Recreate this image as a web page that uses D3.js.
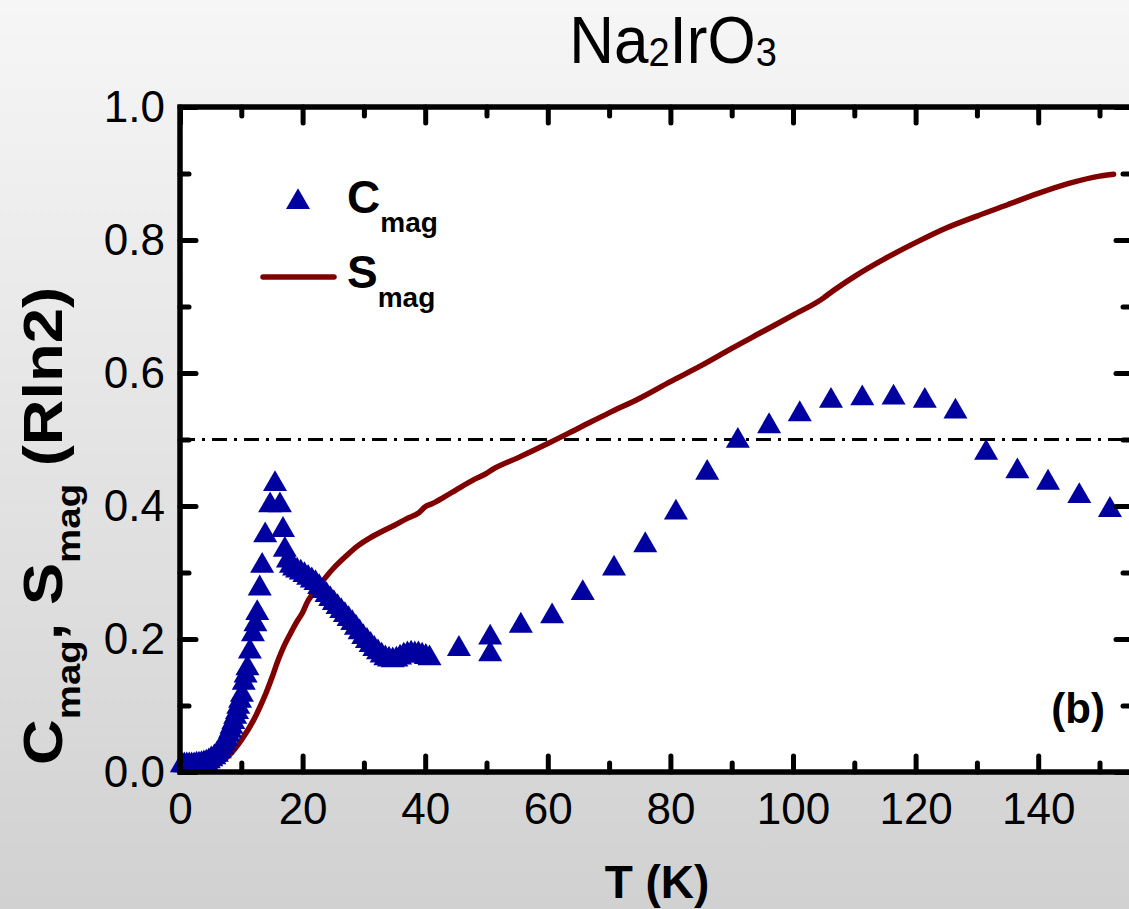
<!DOCTYPE html>
<html>
<head>
<meta charset="utf-8">
<script src="https://cdn.jsdelivr.net/npm/d3@7"></script>
<style>
  body { margin: 0; }
  svg { display: block; font-family: "Liberation Sans", Arial, sans-serif; }
</style>
</head>
<body>
<div id="chart"></div>
<script>
// magnetic heat capacity (triangles)
const cmagT = [0.3, 0.7, 1.1, 1.5, 1.9, 2.3, 2.7, 3.1, 3.5, 3.9, 4.3, 4.7, 5.1,
  5.6, 6.0, 6.5, 6.9, 7.3, 7.6, 7.9, 8.2, 8.4, 8.7, 9.0, 9.3, 9.5, 9.8, 10.1, 10.4, 10.7, 11.0,
  11.4, 11.9, 12.3, 12.6, 13.0, 13.4, 13.9, 14.7, 15.5, 16.3, 16.8, 17.1,
  17.6, 18.1, 18.6, 19.1, 19.7, 20.3, 20.9, 21.5, 22.1, 22.7, 23.3, 23.9, 24.5, 25.1, 25.7,
  26.3, 26.9, 27.5, 28.1, 28.7, 29.3, 29.9, 30.5, 31.1, 31.7, 32.3, 32.9, 33.5, 34.1, 34.7,
  35.3, 35.9, 36.5, 37.1, 37.7, 38.3, 38.9, 39.5, 40.1, 40.7,
  45.5, 50.6, 50.6, 55.6, 60.7, 65.7, 70.8, 75.9, 80.9, 86.0, 91.0, 96.1, 101.1, 106.2,
  111.3, 116.4, 121.5, 126.5, 131.5, 136.6, 141.6, 146.7, 151.7];
const cmagV = [0.010, 0.010, 0.010, 0.010, 0.010, 0.010, 0.011, 0.011, 0.012, 0.013, 0.014, 0.016, 0.019,
  0.022, 0.026, 0.031, 0.037, 0.043, 0.049, 0.056, 0.062, 0.068, 0.075, 0.083, 0.090, 0.098, 0.107, 0.116, 0.134, 0.145, 0.156,
  0.181, 0.207, 0.222, 0.239, 0.276, 0.310, 0.356, 0.401, 0.433, 0.401, 0.364, 0.334,
  0.318, 0.310, 0.306, 0.303, 0.300, 0.296, 0.292, 0.288, 0.284, 0.278, 0.272, 0.266, 0.260, 0.254, 0.248,
  0.242, 0.236, 0.230, 0.224, 0.217, 0.210, 0.203, 0.197, 0.191, 0.185, 0.180, 0.175, 0.171, 0.169, 0.168,
  0.169, 0.172, 0.175, 0.177, 0.178, 0.177, 0.177, 0.175, 0.173, 0.171,
  0.185, 0.202, 0.177, 0.220, 0.234, 0.269, 0.306, 0.341, 0.390, 0.450, 0.498, 0.520, 0.538, 0.558,
  0.562, 0.563, 0.558, 0.542, 0.480, 0.452, 0.435, 0.415, 0.394];

// magnetic entropy (line)
const smagT = [0, 2, 4, 6, 8, 10, 12, 13, 14, 15, 16, 17, 18, 19, 20, 20.8, 21.5, 23, 25, 27,
  29, 31, 33, 35, 37, 39, 40, 41, 43, 45, 48, 50, 51, 55, 60, 65, 70, 75, 80, 85, 90, 95,
  100, 105, 106, 110, 115, 120, 125, 130, 135, 140, 145, 150, 152.3];
const smagV = [0.002, 0.003, 0.005, 0.011, 0.025, 0.048, 0.078, 0.097, 0.118, 0.142, 0.168, 0.190,
  0.208, 0.225, 0.240, 0.256, 0.266, 0.284, 0.306, 0.324, 0.340, 0.352, 0.362, 0.371, 0.381,
  0.390, 0.399, 0.403, 0.413, 0.424, 0.440, 0.449, 0.455, 0.472, 0.494, 0.517, 0.540, 0.562,
  0.587, 0.611, 0.637, 0.662, 0.687, 0.713, 0.720, 0.745, 0.772, 0.796, 0.818, 0.836, 0.853,
  0.870, 0.885, 0.896, 0.899];

const xMajor = [0, 20, 40, 60, 80, 100, 120, 140];
const xMinor = [10, 30, 50, 70, 90, 110, 130, 150];
const yMajor = [0, 0.2, 0.4, 0.6, 0.8, 1.0];
const yMinor = [0.1, 0.3, 0.5, 0.7, 0.9];
const halfLevel = 0.5;

const W = 1129, H = 909;
const x = d3.scaleLinear().domain([0, 155.3]).range([180, 1132]);
const y = d3.scaleLinear().domain([0, 1]).range([772, 107]);
const xEnd = x.range()[1];

const svg = d3.select('#chart').append('svg')
  .attr('width', W)
  .attr('height', H);

const grad = svg.append('defs').append('linearGradient')
  .attr('id', 'bg').attr('x1', 0).attr('y1', 0).attr('x2', 0).attr('y2', 1);
grad.append('stop').attr('offset', '0%').attr('stop-color', '#f6f6f6');
grad.append('stop').attr('offset', '100%').attr('stop-color', '#d1d1d1');

svg.append('rect').attr('width', W).attr('height', H).attr('fill', 'url(#bg)');

// plot area
svg.append('rect')
  .attr('x', x(0)).attr('y', y(1))
  .attr('width', xEnd - x(0)).attr('height', y(0) - y(1))
  .attr('fill', '#fff');

// 0.5 reference line
svg.append('line')
  .attr('x1', x(0)).attr('x2', xEnd)
  .attr('y1', y(halfLevel)).attr('y2', y(halfLevel))
  .attr('stroke', '#000').attr('stroke-width', 3)
  .attr('stroke-dasharray', '15 7 3 7');

// entropy curve
const line = d3.line()
  .x((d, i) => x(smagT[i]))
  .y(d => y(d))
  .curve(d3.curveMonotoneX);
svg.append('path')
  .attr('d', line(smagV))
  .attr('fill', 'none')
  .attr('stroke', '#800000')
  .attr('stroke-width', 5.5)
  .attr('stroke-linejoin', 'round')
  .attr('stroke-linecap', 'round');

// heat capacity triangles
const tri = d3.symbol(d3.symbolTriangle, 250);
svg.append('g').selectAll('path')
  .data(cmagV)
  .enter()
  .append('path')
  .attr('d', tri)
  .attr('transform', (d, i) => `translate(${x(cmagT[i])},${y(d)})`)
  .attr('fill', '#0000a0');

// axes
function styleAxis(g) {
  g.select('.domain').remove();
  g.selectAll('.tick line')
    .attr('stroke', '#000')
    .attr('stroke-width', 5)
    .attr('stroke-linecap', 'round');
  g.selectAll('.tick text')
    .attr('fill', '#000')
    .style('font-family', '"Liberation Sans", Arial, sans-serif')
    .style('font-size', '44px');
}

function addAxis(axis, tx, ty) {
  const g = svg.append('g').attr('transform', `translate(${tx},${ty})`).call(axis);
  styleAxis(g);
  return g;
}

addAxis(d3.axisBottom(x).tickValues(xMajor).tickSize(-16).tickPadding(21).tickFormat(d3.format('d')), 0, y(0));
addAxis(d3.axisBottom(x).tickValues(xMinor).tickSize(-9).tickFormat(''), 0, y(0));
addAxis(d3.axisTop(x).tickValues(xMajor).tickSize(-16).tickFormat(''), 0, y(1));
addAxis(d3.axisTop(x).tickValues(xMinor).tickSize(-9).tickFormat(''), 0, y(1));
addAxis(d3.axisLeft(y).tickValues(yMajor).tickSize(-16).tickPadding(15).tickFormat(d3.format('.1f')), x(0), 0);
addAxis(d3.axisLeft(y).tickValues(yMinor).tickSize(-9).tickFormat(''), x(0), 0);
addAxis(d3.axisRight(y).tickValues(yMajor).tickSize(-16).tickFormat(''), xEnd, 0);
addAxis(d3.axisRight(y).tickValues(yMinor).tickSize(-9).tickFormat(''), xEnd, 0);

// frame
svg.append('rect')
  .attr('x', x(0)).attr('y', y(1))
  .attr('width', xEnd - x(0)).attr('height', y(0) - y(1))
  .attr('fill', 'none').attr('stroke', '#000').attr('stroke-width', 5.5);

// title (slightly taller than wide, like the reference)
const title = svg.append('text')
  .attr('transform', 'translate(673,63) scale(1,1.07)')
  .attr('text-anchor', 'middle')
  .style('font-size', '62px');
title.append('tspan').text('Na');
title.append('tspan').attr('dy', 3).style('font-size', '38px').text('2');
title.append('tspan').attr('dy', -3).text('IrO');
title.append('tspan').attr('dy', 3).style('font-size', '38px').text('3');

// x label
svg.append('text')
  .attr('x', 657).attr('y', 898)
  .attr('text-anchor', 'middle')
  .style('font-size', '46px').style('font-weight', 'bold')
  .text('T (K)');

// y label
const ylab = svg.append('text')
  .attr('transform', 'translate(62,526) scale(1,1.13) rotate(-90)')
  .attr('text-anchor', 'middle')
  .style('font-size', '56px').style('font-weight', 'bold');
ylab.append('tspan').text('C');
ylab.append('tspan').attr('dy', 18).style('font-size', '34px').text('mag');
ylab.append('tspan').attr('dy', -18).text(', S');
ylab.append('tspan').attr('dy', 18).style('font-size', '34px').text('mag');
ylab.append('tspan').attr('dy', -18).text(' (Rln2)');

// panel tag
svg.append('text')
  .attr('x', 1105).attr('y', 723)
  .attr('text-anchor', 'end')
  .style('font-size', '42px').style('font-weight', 'bold')
  .text('(b)');

// legend
const legend = svg.append('g');
legend.append('path')
  .attr('d', tri)
  .attr('transform', 'translate(298,202)')
  .attr('fill', '#0000a0');
legend.append('line')
  .attr('x1', 263).attr('x2', 334).attr('y1', 277).attr('y2', 277)
  .attr('stroke', '#800000').attr('stroke-width', 5.5).attr('stroke-linecap', 'round');
const legC = legend.append('text').attr('x', 347).attr('y', 213)
  .style('font-size', '46px').style('font-weight', 'bold');
legC.append('tspan').text('C');
legC.append('tspan').attr('dy', 19).style('font-size', '28px').text('mag');
const legS = legend.append('text').attr('x', 347).attr('y', 288)
  .style('font-size', '46px').style('font-weight', 'bold');
legS.append('tspan').text('S');
legS.append('tspan').attr('dy', 19).style('font-size', '28px').text('mag');
</script>
</body>
</html>
